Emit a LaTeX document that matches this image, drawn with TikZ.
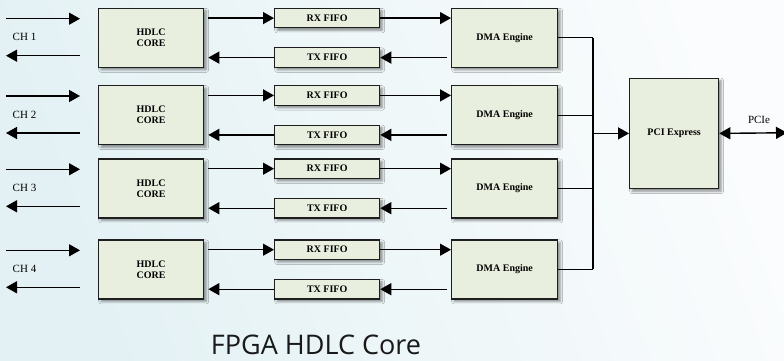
\documentclass[tikz,border=0pt]{standalone}
\usepackage{fontspec}
\setmainfont{Liberation Serif}
\newfontfamily\titlefont{Open Sans}
\usetikzlibrary{arrows.meta,shadows.blur,calc}
\definecolor{boxfill}{RGB}{233,239,222}
\definecolor{boxline}{RGB}{30,30,30}
\definecolor{bgA}{RGB}{227,241,244}
\definecolor{bgB}{RGB}{250,252,253}
\tikzset{
  blk/.style={draw=boxline, line width=1.3pt, fill=boxfill, anchor=north west,
    inner sep=0pt, font=\fontsize{10}{11}\selectfont\bfseries, align=center,
    blur shadow={shadow xshift=2.5pt, shadow yshift=-2.5pt, shadow blur radius=2.5pt, shadow opacity=45}},
  tip/.style={},
  arr/.style={line width=1.4pt, draw=black, -{Triangle[length=11pt,width=12pt]}},
  arrboth/.style={line width=1.4pt, draw=black, {Triangle[length=11pt,width=12pt]}-{Triangle[length=11pt,width=12pt]}},
  busline/.style={line width=1.1pt, draw=black},
  chlab/.style={font=\fontsize{11}{12}\selectfont},
}
\begin{document}
\begin{tikzpicture}[x=1pt,y=-1pt]
\shade[left color=bgA, right color=bgB, shading angle=110] (0,0) rectangle (784,361);
\useasboundingbox (0,0) rectangle (784,361);
\coordinate (busx) at (593,0);
\foreach \i/\t in {0/7.7,1/85,2/158.3,3/239.3}{
  \node[blk, minimum width=105pt, minimum height=59pt] (h\i) at (98,\t) {HDLC\\CORE};
  \node[blk, minimum width=105pt, minimum height=19.5pt] (r\i) at (274,\t) {RX FIFO};
  \node[blk, minimum width=105pt, minimum height=19.5pt] (x\i) at (274,\t+39.5) {TX FIFO};
  \node[blk, minimum width=106pt, minimum height=59pt] (d\i) at (451,\t) {DMA Engine};
  \coordinate (ia\i) at (6,\t+11);
  \coordinate (ib\i) at (80,\t+11);
  \coordinate (oa\i) at (80,\t+48);
  \coordinate (ob\i) at (6,\t+48);
  \pgfmathtruncatemacro{\n}{\i+1}
  \node[chlab] (ch\i) at (24.5,\t+29.5) {CH \n};
  \draw[arr] (ia\i) -- (ib\i);
  \draw[arr] (oa\i) -- (ob\i);
  \draw[arr] ([xshift=4pt]h\i.east |- r\i.west) -- (r\i.west);
  \draw[arr] (x\i.west) -- ([xshift=4pt]h\i.east |- x\i.west);
  \draw[arr] (r\i.east) -- (d\i.west |- r\i.east);
  \draw[arr] ([xshift=-4pt]d\i.west |- x\i.east) -- (x\i.east);
  \draw[busline] (d\i.east) -- (busx |- d\i.east);
}
\node[blk, minimum width=89pt, minimum height=110.5pt] (p) at (629,77.5) {PCI Express};
\draw[busline] (busx |- d0.east) -- (busx |- d3.east);
\draw[arr] (busx |- p.west) -- (p.west);
\coordinate (pe) at (787,132.75);
\draw[arrboth] (p.east) -- (pe);
\node[chlab] (pcie) at (759,120) {PCIe};
\node[font=\fontsize{27}{28}\selectfont\titlefont, text=black!90, inner sep=0pt] (title) at (316,345) {FPGA HDLC Core};
\end{tikzpicture}
\end{document}
